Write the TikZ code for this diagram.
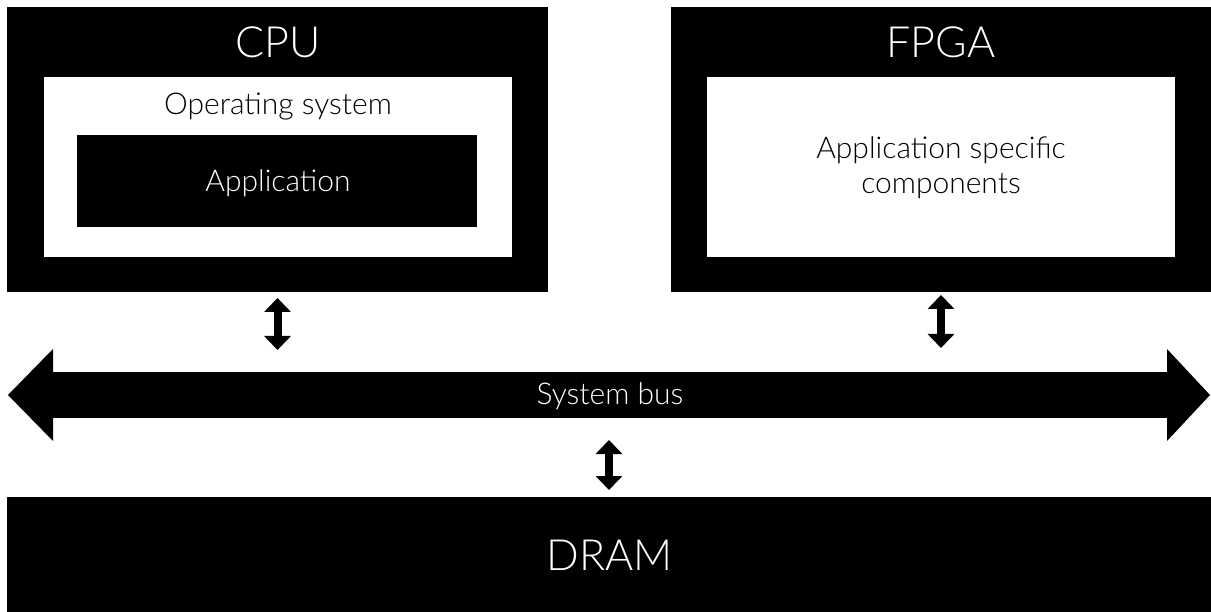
\documentclass[tikz,border=0pt]{standalone}
\usepackage{fontspec}
\setmainfont{Lato}[UprightFont={* Light}]
\usetikzlibrary{arrows.meta}
\begin{document}
\begin{tikzpicture}[x=1pt,y=-1pt,
  blk/.style={fill=black,inner sep=0,outer sep=0},
  wht/.style={fill=white,inner sep=0,outer sep=0},
  big/.style={inner sep=0,font=\fontsize{43}{48}\selectfont,anchor=base},
  mid/.style={inner sep=0,font=\fontsize{30}{35}\selectfont,anchor=base},
  link/.style={line width=8pt,{Triangle[width=26pt,length=14pt]}-{Triangle[width=26pt,length=14pt]}}]
\useasboundingbox (0,0) rectangle (1211,612);
% CPU
\node[blk,minimum width=541,minimum height=285] (cpu) at (277.5,149.5) {};
\node[wht,minimum width=468,minimum height=180] (os) at (278,167) {};
\node[blk,minimum width=400,minimum height=92] (app) at (277,181) {};
\node[big,text=white] (cpulbl) at (278,58) {CPU};
\node[mid,text=black] (oslbl) at (278,115) {Operating system};
\node[mid,text=white] (applbl) at (278,192) {Application};
% FPGA
\node[blk,minimum width=540,minimum height=285] (fpga) at (941,149.5) {};
\node[wht,minimum width=468,minimum height=180] (asc) at (941,167) {};
\node[big,text=white] (fpgalbl) at (941,58) {FPGA};
\node[mid,text=black] (asc1) at (941,159) {Application specific};
\node[mid,text=black] (asc2) at (941,194) {components};
% System bus
\node[blk,minimum width=1114,minimum height=46] (bus) at (610,395) {};
\fill (bus.north west) -- ++(0,-23) -- ++(-45,46) -- ++(45,46) -- (bus.south west) -- cycle;
\fill (bus.north east) -- ++(0,-23) -- ++(43,46) -- ++(-43,46) -- (bus.south east) -- cycle;
\node[mid,text=white] (buslbl) at (610,405) {System bus};
% DRAM
\node[blk,minimum width=1204,minimum height=115] (dram) at (609,554.5) {};
\node[big,text=white] (dramlbl) at (610,570) {DRAM};
% links
\draw[link,shorten <=6pt,shorten >=22pt] (cpu.south) -- (cpu.south |- bus.north);
\draw[link,shorten <=3pt,shorten >=24pt] (fpga.south) -- (fpga.south |- bus.north);
\draw[link,shorten <=22pt,shorten >=7pt] (dram.north |- bus.south) -- (dram.north);
\end{tikzpicture}
\end{document}
